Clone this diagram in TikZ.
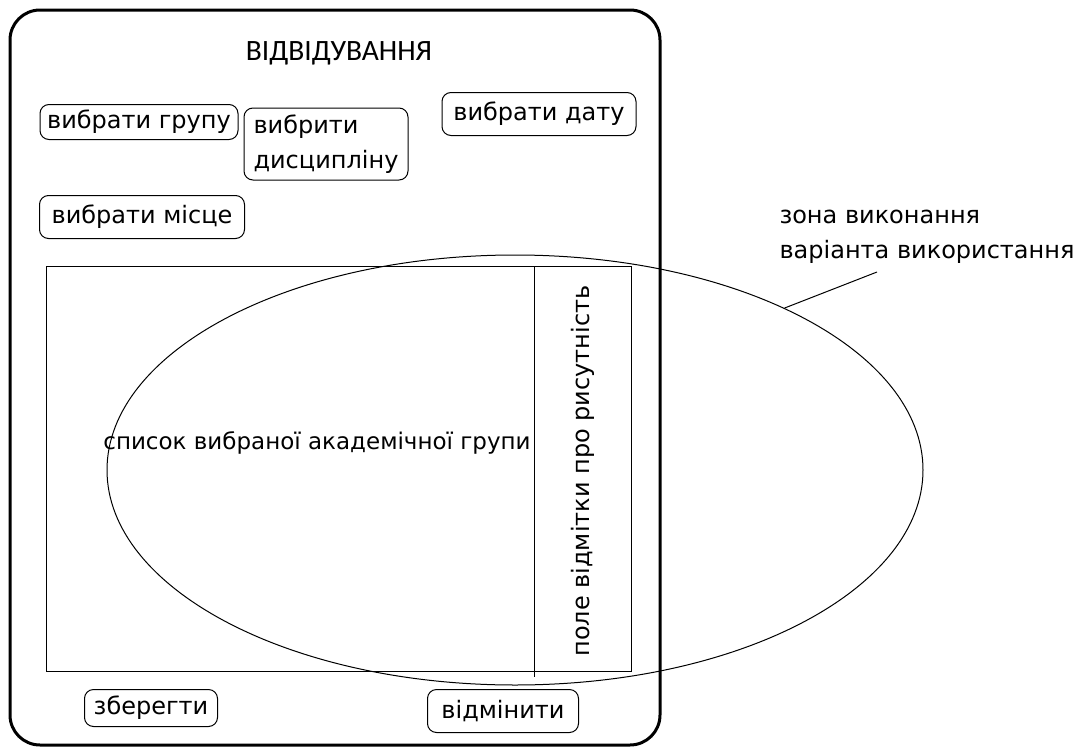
\documentclass[tikz,border=0pt]{standalone}
\usepackage{fontspec}
\setmainfont{DejaVu Sans}
\newfontfamily\titlefont{Carlito}
\usetikzlibrary{shapes.geometric}
\begin{document}
\begin{tikzpicture}[x=1pt,y=-1pt,
  lbl/.style={font=\fontsize{24}{35}\selectfont},
  btn/.style={draw, rounded corners=9pt, line width=1pt, inner sep=0pt, lbl},
  thin/.style={line width=1pt}]
\useasboundingbox (0,0) rectangle (1087,747);
% window frame
\draw[line width=3pt, rounded corners=30pt] (10,10) rectangle (660,745);
\node (title) at (339,53) {\titlefont\fontsize{29.5}{30}\selectfont ВІДВІДУВАННЯ};
% selection buttons
\node[btn, minimum width=198pt, minimum height=35pt] (grp) at (139,122) {вибрати групу};
\node[btn, minimum width=164pt, minimum height=72pt, align=left, inner xsep=6pt] (disc) at (326,144) {вибрити\\дисципліну};
\node[btn, minimum width=194pt, minimum height=43pt] (date) at (539,114) {вибрати дату};
\node[btn, minimum width=205pt, minimum height=43pt] (place) at (142,217) {вибрати місце};
% group list area
\draw[thin] (46,266) rectangle (631,671);
\coordinate (divtop) at (534,266);
\coordinate (divbot) at (534,677);
\draw[thin] (divtop) -- (divbot);
\node[font=\fontsize{23}{30}\selectfont] (list) at (317,443) {список вибраної академічної групи};
\node[lbl, rotate=90] (mark) at (583,471) {поле відмітки про рисутність};
% bottom buttons
\node[btn, minimum width=133pt, minimum height=37pt] (save) at (151,708) {зберегти};
\node[btn, minimum width=151pt, minimum height=43pt] (cancel) at (503,711) {відмінити};
% use case execution zone
\node[draw, thin, ellipse, minimum width=816pt, minimum height=430pt, inner sep=0pt] (zone) at (515,470) {};
\node[lbl, align=left, anchor=west] (zonelbl) at (776,237) {зона виконання\\варіанта використання};
\coordinate (lead) at (877,272);
\draw[thin] (zone.31.6) -- (lead);
\end{tikzpicture}
\end{document}
